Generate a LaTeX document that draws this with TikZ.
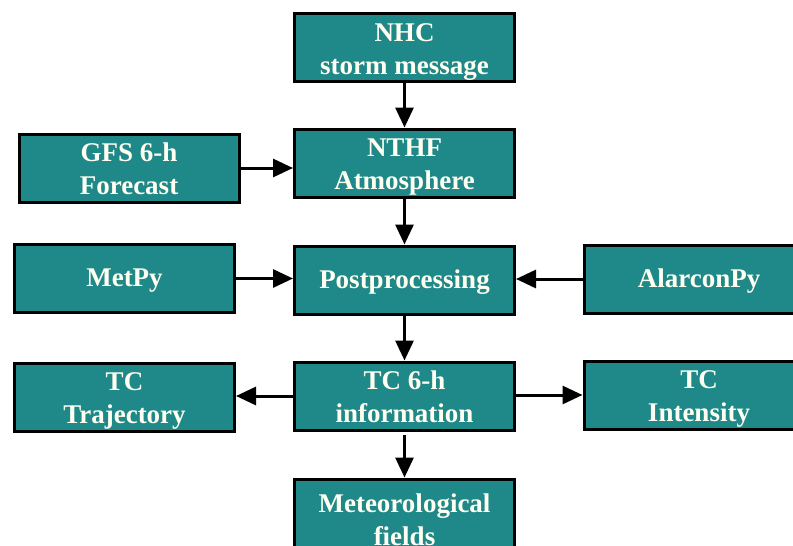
\documentclass[tikz,border=0pt]{standalone}
\usepackage{fontspec}
\setmainfont{Liberation Serif}
\usetikzlibrary{arrows.meta}
\definecolor{stormteal}{HTML}{1F8888}
\definecolor{boxtext}{HTML}{FFFFF2}
\newcommand{\uppad}{\rule{0pt}{21pt}}
\begin{document}
\begin{tikzpicture}[x=1pt, y=-1pt,
  flowbox/.style={draw=black, line width=3pt, fill=stormteal, text=boxtext,
    minimum width=220pt, minimum height=68pt, align=center, inner sep=2pt,
    text depth=1pt, font=\bfseries\fontsize{27}{33}\selectfont},
  flowarrow/.style={line width=3pt, -{Triangle[length=20pt,width=18pt]}}]
  \useasboundingbox (0,0) rectangle (793,546);
  \clip (0,0) rectangle (793,546);  % the right and bottom boxes run off the page
  \node[flowbox] (nhc) at (404.5,47.5) {\uppad NHC\\storm message};
  \node[flowbox] (nthf) at (404.5,163) {\uppad NTHF\\Atmosphere};
  \node[flowbox] (gfs) at (129,168) {\uppad GFS 6-h\\Forecast};
  \node[flowbox] (metpy) at (124.5,278.5) {MetPy};
  \node[flowbox] (post) at (404.5,280) {Postprocessing};
  \node[flowbox, minimum width=230pt] (alarcon) at (699,279) {AlarconPy};
  \node[flowbox] (traj) at (124.5,397) {\uppad TC\\Trajectory};
  \node[flowbox] (info) at (404.5,396) {\uppad TC 6-h\\information};
  \node[flowbox, minimum width=230pt] (inten) at (699,395) {\uppad TC\\Intensity};
  \node[flowbox, minimum height=80pt] (meteo) at (404.5,519) {\uppad Meteorological\\fields};

  \draw[flowarrow] (nhc) -- (nthf);
  \draw[flowarrow] (gfs) -- (gfs -| nthf.west);
  \draw[flowarrow] (nthf) -- (post);
  \draw[flowarrow] (metpy) -- (metpy -| post.west);
  \draw[flowarrow] (alarcon) -- (alarcon -| post.east);
  \draw[flowarrow] (post) -- (info);
  \draw[flowarrow] (info) -- (info -| traj.east);
  \draw[flowarrow] (info.east |- inten) -- (inten);
  \draw[flowarrow] ([yshift=-3pt]info.south) -- (meteo);
\end{tikzpicture}
\end{document}
